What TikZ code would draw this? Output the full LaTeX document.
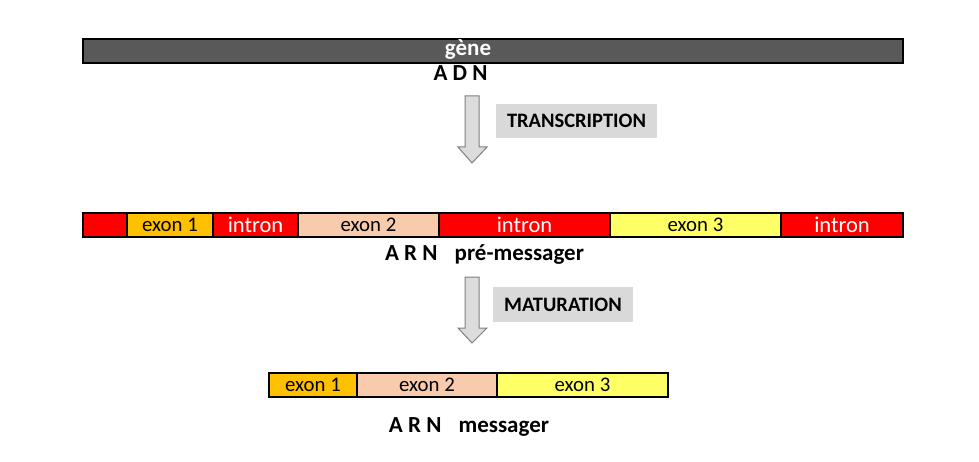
\documentclass[tikz,border=0pt]{standalone}
\usepackage{fontspec}
\setmainfont{Carlito}
\definecolor{genegray}{HTML}{595959}
\definecolor{intronred}{HTML}{FF0000}
\definecolor{exonA}{HTML}{FFC000}
\definecolor{exonB}{HTML}{F8CBAD}
\definecolor{exonC}{HTML}{FFFF66}
\definecolor{labelbox}{HTML}{D9D9D9}
\definecolor{arrowfill}{HTML}{DCDCDC}
\definecolor{arrowline}{HTML}{7F7F7F}
\begin{document}
\begin{tikzpicture}[x=1pt,y=-1pt,
  seg/.style={draw=black, line width=1.6pt, inner sep=0pt, minimum height=24pt, anchor=center},
  exontxt/.style={font=\fontsize{20.8}{24}\selectfont, text=black},
  introntxt/.style={font=\fontsize{22.5}{26}\selectfont, text=white},
  title/.style={font=\fontsize{23}{27}\selectfont\bfseries, text=black, inner sep=0pt, anchor=base},
  stagebox/.style={fill=labelbox, inner sep=0pt, font=\fontsize{20.5}{24}\selectfont\bfseries, text=black},
  blockarrow/.style={fill=arrowfill, draw=arrowline, line width=1pt, line join=miter}]
\useasboundingbox (0,0) rectangle (979,462);

% gene / DNA
\node[draw=black, line width=1.6pt, fill=genegray, minimum width=820pt, minimum height=24pt, inner sep=0pt] (gene) at (493,51.3) {};
\node[title, text=white] (genelabel) at (468,56) {gène};
\node[title] (adn) at (460.5,81) {A D N};

% transcription arrow
\draw[blockarrow] (465,96) -- (479,96) -- (479,147) -- (487,147) -- (472,163) -- (458,147) -- (465,147) -- cycle;
\node[stagebox, minimum width=161pt, minimum height=34pt] (transcription) at (576.5,121) {TRANSCRIPTION};

% pre-messenger RNA
\node[seg, fill=intronred, minimum width=44pt] (r0) at (105,225) {};
\node[seg, fill=exonA, minimum width=86pt, exontxt] (p1) at (170,225) {exon 1};
\node[seg, fill=intronred, minimum width=85pt, introntxt] (i1) at (255.5,225) {intron};
\node[seg, fill=exonB, minimum width=141pt, exontxt] (p2) at (368.5,225) {exon 2};
\node[seg, fill=intronred, minimum width=171pt, introntxt] (i2) at (524.5,225) {intron};
\node[seg, fill=exonC, minimum width=171pt, exontxt] (p3) at (695.5,225) {exon 3};
\node[seg, fill=intronred, minimum width=122pt, introntxt] (i3) at (842,225) {intron};
\node[title] (pre) at (484.5,260) {A R N\hspace{12pt} pré-messager};

% maturation arrow
\draw[blockarrow] (465,277) -- (479,277) -- (479,328) -- (487,328) -- (472,343) -- (458,328) -- (465,328) -- cycle;
\node[stagebox, minimum width=140pt, minimum height=35pt] (maturation) at (563,304.5) {MATURATION};

% messenger RNA
\node[seg, fill=exonA, minimum width=88pt, exontxt] (m1) at (313,385) {exon 1};
\node[seg, fill=exonB, minimum width=140pt, exontxt] (m2) at (427,385) {exon 2};
\node[seg, fill=exonC, minimum width=171pt, exontxt] (m3) at (582.5,385) {exon 3};
\node[title] (arnm) at (469,432) {A R N\hspace{12pt} messager};
\end{tikzpicture}
\end{document}
